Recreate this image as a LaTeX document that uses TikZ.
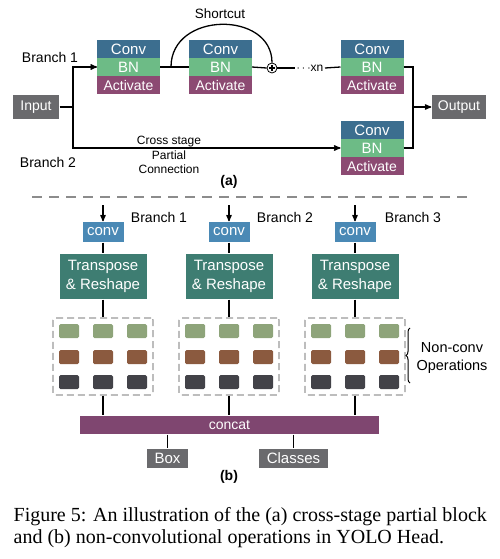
\documentclass[tikz,border=0pt]{standalone}
\usepackage{fontspec}
\setmainfont{Liberation Serif}
\setsansfont{Liberation Sans}
\usetikzlibrary{arrows,positioning,decorations.pathreplacing}

\definecolor{convblue}{HTML}{3C6E8F}
\definecolor{bngreen}{HTML}{6DBB86}
\definecolor{actplum}{HTML}{8C4A72}
\definecolor{iogray}{HTML}{6A6A6D}
\definecolor{headconv}{HTML}{4A89B5}
\definecolor{trteal}{HTML}{3E7D72}
\definecolor{opgreen}{HTML}{8EA47A}
\definecolor{opbrown}{HTML}{8B5A3F}
\definecolor{opdark}{HTML}{424248}
\definecolor{catplum}{HTML}{7F4670}

\begin{document}
\begin{tikzpicture}[x=1pt,y=-1pt,>=stealth',line width=1.3pt,
                    font=\sffamily\fontsize{14}{16}\selectfont]
  \tikzstyle{layer}=[text=white,minimum width=63pt,minimum height=18pt,
                     inner sep=1pt,outer sep=0pt]
  \tikzstyle{convl}=[layer,fill=convblue,font=\sffamily\fontsize{15}{16}\selectfont]
  \tikzstyle{bnl}=[layer,fill=bngreen,font=\sffamily\fontsize{15}{16}\selectfont]
  \tikzstyle{actl}=[layer,fill=actplum]
  \tikzstyle{io}=[fill=iogray,text=white,minimum height=24pt,inner sep=2pt]
  \tikzstyle{small}=[font=\sffamily\fontsize{12}{14.5}\selectfont]
  \tikzstyle{tag}=[font=\sffamily\bfseries\fontsize{14}{16}\selectfont]
  \tikzstyle{hconv}=[fill=headconv,text=white,minimum width=41pt,minimum height=20pt,
                     inner sep=1pt,font=\sffamily\fontsize{15}{16}\selectfont]
  \tikzstyle{trbox}=[fill=trteal,text=white,minimum width=87pt,minimum height=45pt,
                     align=center,inner sep=1pt,font=\sffamily\fontsize{15}{18.5}\selectfont]
  \tikzstyle{opsbox}=[draw=gray!80,dashed,dash pattern=on 7pt off 4pt,rounded corners=2pt,
                      minimum width=100pt,minimum height=77pt]
  \tikzstyle{op}=[minimum width=20pt,minimum height=14pt,inner sep=0pt,rounded corners=1.5pt]
  \tikzstyle{outbox}=[fill=iogray,text=white,minimum height=19pt,inner sep=2pt,
                      font=\sffamily\fontsize{15}{16}\selectfont]

  \useasboundingbox (0,0) rectangle (500,559);

  % (a) cross stage partial block
  \foreach \n/\x/\y in {1/128.5/49, 2/220.5/49, 3/372/49, 4/372/130}{
    \node[convl] (c\n) at (\x,\y) {Conv};
    \node[bnl, below=0pt of c\n] (b\n) {BN};
    \node[actl, below=0pt of b\n] (a\n) {Activate};
  }

  \node[io, minimum width=46pt] (in)  at (36,107)  {Input};
  \node[io, minimum width=54pt] (out) at (459,107) {Output};
  \coordinate (split) at (73,107);
  \coordinate (merge) at (413,107);
  \coordinate (sc)    at (171,67);

  \node (br1) at (50,57)  {Branch 1};
  \node (br2) at (48,162) {Branch 2};
  \node[small, align=center] (csp) at (169,155) {Cross stage\\Partial\\Connection};
  \node[small, font=\sffamily\fontsize{13.5}{16}\selectfont] (shl) at (220,14) {Shortcut};
  \node[draw, circle, fill=white, line width=0.8pt, minimum size=10pt, inner sep=0pt] (plus) at (272,68) {};
  \draw[line width=1.6pt] (plus.center) ++(-3.2,0) -- ++(6.4,0)
                          (plus.center) ++(0,-3.2) -- ++(0,6.4);
  \node[small, inner sep=1pt] (xn) at (310,68) {$\cdots$xn};
  \node[tag] (la) at (229,182) {(a)};

  \draw (in) -- (split);
  \draw[->] (split) |- (b1.west);
  \draw[->] (split) |- (b4.west);
  \draw (b1.east) -- (b2.west);
  \draw (sc) .. controls +(0,-56) and +(0,-52) .. (plus.north);
  \draw (b2.east) -- (plus.west);
  \draw (plus.east) -- (xn.west);
  \draw (xn.east) -- (b3.west);
  \draw (b3.east) -| (merge);
  \draw (b4.east) -| (merge);
  \draw[->] (merge) -- (out.west);

  \draw[gray!90, line width=1.5pt, dash pattern=on 10pt off 7pt] (32,197) -- (468,197);

  % (b) YOLO head
  \foreach \i/\x in {1/103, 2/229, 3/355}{
    \coordinate (top\i) at (\x,205);
    \node[hconv] (cv\i) at (\x,232) {conv};
    \node[trbox] (tr\i) at (\x,276.5) {Transpose\\\& Reshape};
    \node[opsbox] (ops\i) at (\x,356.5) {};
    \foreach \dx in {-34,0,34}{
      \node[op, fill=opgreen] at (\x+\dx,331) {};
      \node[op, fill=opbrown] at (\x+\dx,357) {};
      \node[op, fill=opdark]  at (\x+\dx,382) {};
    }
    \draw[->] (top\i) -- (cv\i.north);
    \draw (cv\i) -- (tr\i);
    \draw (tr\i) -- (ops\i);
  }
  \node (bb1) at (159,217) {Branch 1};
  \node (bb2) at (285,217) {Branch 2};
  \node (bb3) at (413,217) {Branch 3};

  \draw[line width=1pt, decorate, decoration={brace, amplitude=4pt}]
    (410,383) -- (410,328);
  \node[align=center, font=\sffamily\fontsize{14.5}{18}\selectfont] (nco) at (452,358) {Non-conv\\Operations};

  \node[fill=catplum, text=white, minimum width=299pt, minimum height=18pt, inner sep=0pt] (cat) at (229.5,425) {concat};
  \foreach \i in {1,2,3}
    \draw (ops\i.south) -- (ops\i.south |- cat.north);

  \node[outbox, minimum width=41pt] (box) at (167.5,458.5) {Box};
  \node[outbox, minimum width=69pt] (cls) at (293.5,458.5) {Classes};
  \draw (box.north |- cat.south) -- (box.north);
  \draw (cls.north |- cat.south) -- (cls.north);
  \node[tag] (lb) at (229,477) {(b)};

  \node[anchor=west, align=left, inner sep=0pt,
        font=\rmfamily\fontsize{20}{22}\selectfont] (cap) at (13,528)
    {Figure 5: An illustration of the (a) cross-stage partial block\\
     and (b) non-convolutional operations in YOLO Head.};
\end{tikzpicture}
\end{document}
